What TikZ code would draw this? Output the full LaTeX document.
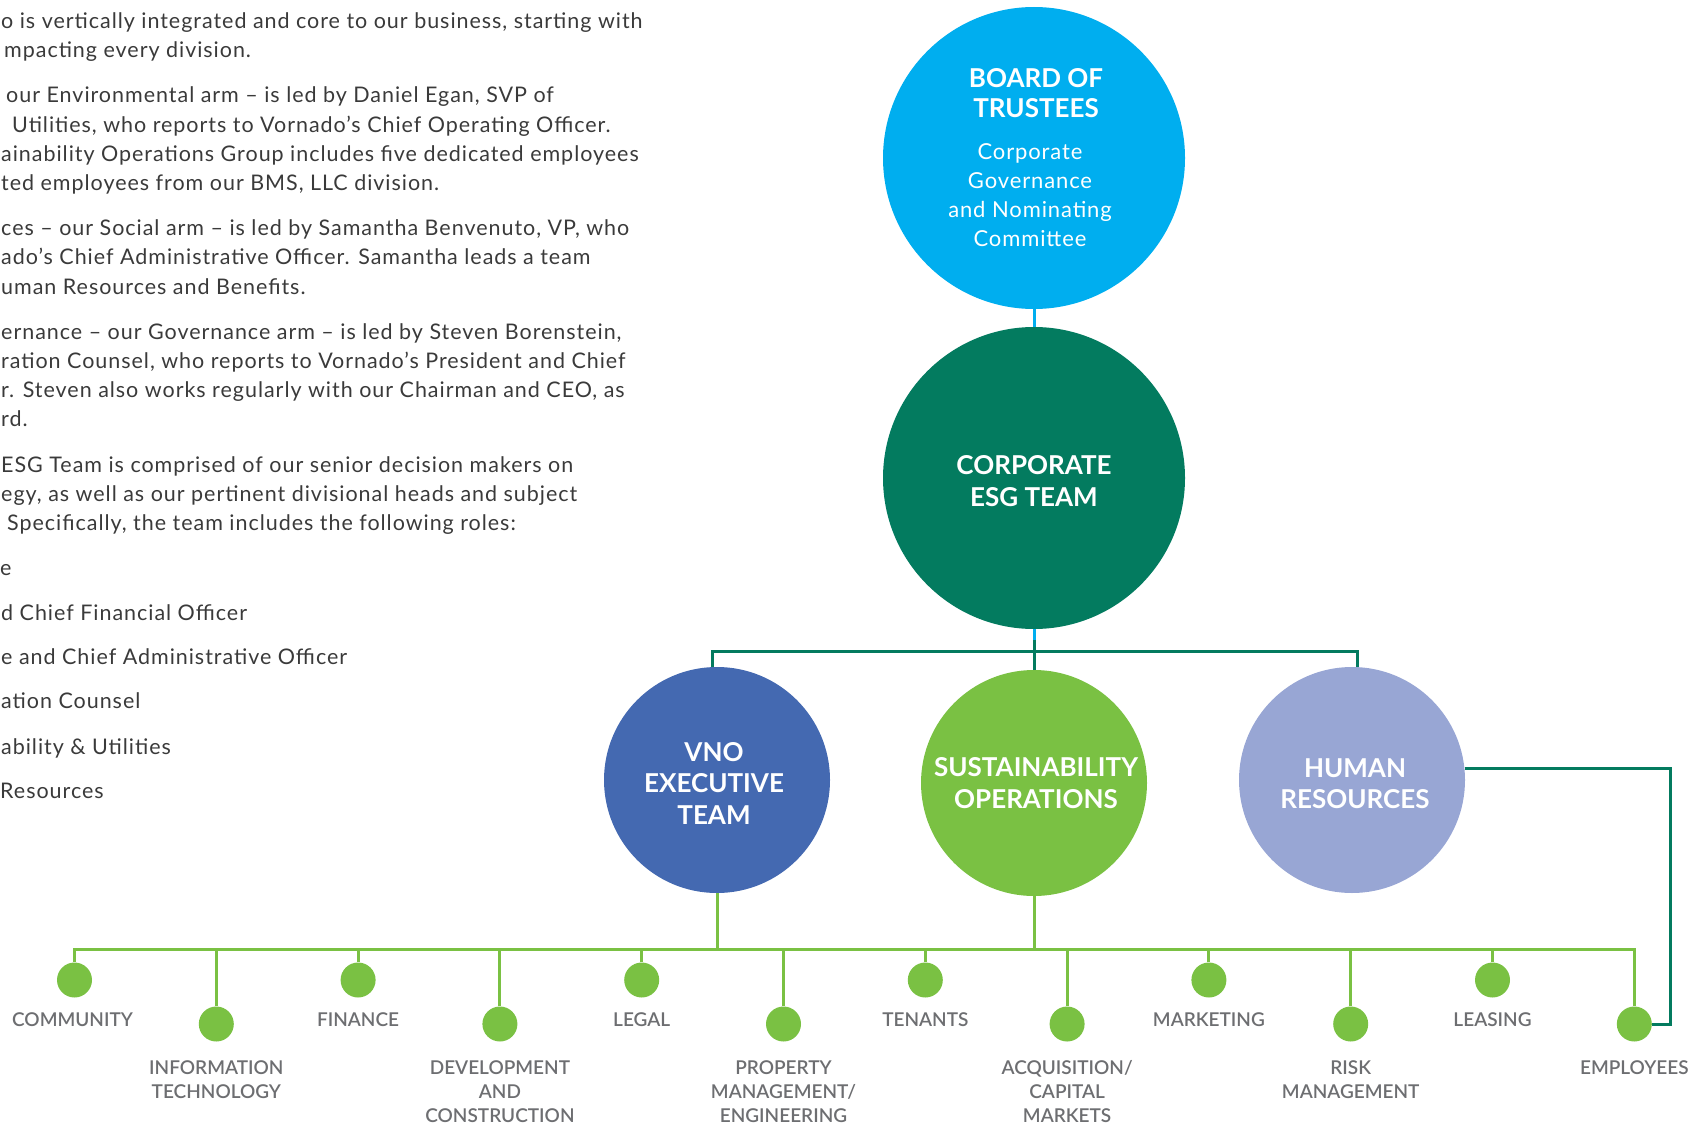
\documentclass[tikz,border=0pt]{standalone}
\usepackage{fontspec}
\setmainfont{Lato}
\newfontfamily\bodyfont{Lato}[LetterSpace=4.5]
\IfFontExistsTF{Lato Semibold}{\newfontfamily\labfont{Lato Semibold}}{\newfontfamily\labfont{Lato}[UprightFont=* Bold]}
\newfontfamily\subfont{Lato}[LetterSpace=4]
\definecolor{cyanB}{HTML}{00AEEF}
\definecolor{esgG}{HTML}{037B5F}
\definecolor{vnoB}{HTML}{4469B1}
\definecolor{susG}{HTML}{7AC143}
\definecolor{hrP}{HTML}{98A6D4}
\definecolor{labG}{HTML}{6D6E71}
\definecolor{bodyT}{HTML}{3A3A3A}
\begin{document}
\begin{tikzpicture}[x=1pt,y=-1pt,
  bigc/.style={circle, inner sep=0pt, minimum size=302pt},
  midc/.style={circle, inner sep=0pt, minimum size=226pt},
  dotc/.style={circle, fill=susG, inner sep=0pt, minimum size=35pt},
  ctitle/.style={text=white, font=\bfseries\fontsize{26}{32}\selectfont, align=center, inner sep=0pt},
  csub/.style={text=white, font=\subfont\fontsize{22}{29}\selectfont, align=center, inner sep=0pt},
  lab/.style={text=labG, font=\labfont\fontsize{19}{24}\selectfont, align=center, inner sep=0pt},
  body/.style={text=bodyT, font=\bodyfont\fontsize{21.5}{29}\selectfont, anchor=mid west, inner sep=0pt},
  lnDk/.style={draw=esgG, line width=3pt},
  lnG/.style={draw=susG, line width=3pt},
  lnB/.style={draw=cyanB, line width=3pt}]
\useasboundingbox (0,0) rectangle (1693,1126);
\clip (0,0) rectangle (1693,1126);

% body text
\node[body] (b1) at (1,26) {o is vertically integrated and core to our business, starting with};
\node[body] (b2) at (4,55.1) {mpacting every division.};
\node[body] (b3) at (6,100.4) {our Environmental arm – is led by Daniel Egan, SVP of};
\node[body] (b4) at (12,129.6) {Utilities, who reports to Vornado’s Chief Operating Officer.};
\node[body] (b5) at (1,158.7) {ainability Operations Group includes five dedicated employees};
\node[body] (b6) at (1,187.9) {ted employees from our BMS, LLC division.};
\node[body] (b7) at (1,233.2) {ces – our Social arm – is led by Samantha Benvenuto, VP, who};
\node[body] (b8) at (1,262.4) {ado’s Chief Administrative Officer. Samantha leads a team};
\node[body] (b9) at (1,291.5) {uman Resources and Benefits.};
\node[body] (b10) at (1,336.9) {ernance – our Governance arm – is led by Steven Borenstein,};
\node[body] (b11) at (1,366) {ration Counsel, who reports to Vornado’s President and Chief};
\node[body] (b12) at (1,395.2) {r. Steven also works regularly with our Chairman and CEO, as};
\node[body] (b13) at (1,424.3) {rd.};
\node[body] (b14) at (1,469.7) {ESG Team is comprised of our senior decision makers on};
\node[body] (b15) at (1,498.8) {egy, as well as our pertinent divisional heads and subject};
\node[body] (b16) at (7,528) {Specifically, the team includes the following roles:};
\node[body] (b17) at (0,573.4) {e};
\node[body] (b18) at (1,617.6) {d Chief Financial Officer};
\node[body] (b19) at (1,661.9) {e and Chief Administrative Officer};
\node[body] (b20) at (1,706.1) {ation Counsel};
\node[body] (b21) at (1,751.5) {ability \& Utilities};
\node[body] (b22) at (0,795.7) {Resources};

% main circles
\node[bigc, fill=cyanB] (board) at (1034,158) {};
\node[bigc, fill=esgG] (esg) at (1034,478) {};
\node[midc, fill=vnoB] (vno) at (717,780) {};
\node[midc, fill=susG] (sust) at (1034,783) {};
\node[midc, fill=hrP] (hr) at (1352,780) {};

\node[ctitle, font=\bfseries\fontsize{26}{30}\selectfont] (boardT) at (1036,93) {BOARD OF\\TRUSTEES};
\node[csub] (boardS) at (1030,195.5) {Corporate\\Governance\\and Nominating\\Committee};
\node[ctitle] (esgT) at (1034,481) {CORPORATE\\ESG TEAM};
\node[ctitle, font=\bfseries\fontsize{26}{31.5}\selectfont] (vnoT) at (714,783) {VNO\\EXECUTIVE\\TEAM};
\node[ctitle] (sustT) at (1036,783) {SUSTAINABILITY\\OPERATIONS};
\node[ctitle, font=\bfseries\fontsize{26}{31}\selectfont] (hrT) at (1355,783.5) {HUMAN\\RESOURCES};

% small circles
\node[dotc] (d1) at (74.5,980) {};
\node[dotc] (d2) at (216.3,1024) {};
\node[dotc] (d3) at (358.1,980) {};
\node[dotc] (d4) at (499.9,1024) {};
\node[dotc] (d5) at (641.7,980) {};
\node[dotc] (d6) at (783.5,1024) {};
\node[dotc] (d7) at (925.3,980) {};
\node[dotc] (d8) at (1067.1,1024) {};
\node[dotc] (d9) at (1208.9,980) {};
\node[dotc] (d10) at (1350.7,1024) {};
\node[dotc] (d11) at (1492.5,980) {};
\node[dotc] (d12) at (1634.3,1024) {};

% labels
\node[lab] (l1) at (72.5,1020) {COMMUNITY};
\node[lab] (l2) at (216.3,1080) {INFORMATION\\TECHNOLOGY};
\node[lab] (l3) at (358.1,1020) {FINANCE};
\node[lab] (l4) at (499.9,1092) {DEVELOPMENT\\AND\\CONSTRUCTION};
\node[lab] (l5) at (641.7,1020) {LEGAL};
\node[lab] (l6) at (783.5,1092) {PROPERTY\\MANAGEMENT/\\ENGINEERING};
\node[lab] (l7) at (925.3,1020) {TENANTS};
\node[lab] (l8) at (1067.1,1092) {ACQUISITION/\\CAPITAL\\MARKETS};
\node[lab] (l9) at (1208.9,1020) {MARKETING};
\node[lab] (l10) at (1350.7,1080) {RISK\\MANAGEMENT};
\node[lab] (l11) at (1492.5,1020) {LEASING};
\node[lab] (l12) at (1634.3,1068) {EMPLOYEES};

% connectors
\coordinate (bstub) at (1034,640);
\coordinate (jy) at (0,651);
\coordinate (busy) at (0,949);
\coordinate (hrturn) at (1670,1024);

\draw[lnB] (board.south) -- (esg.north);
\draw[lnB] (esg.south) -- (bstub);
\draw[lnDk] (bstub) -- (sust.north);
\draw[lnDk] ([xshift=-5pt]vno.north) |- ([xshift=5pt]hr.north |- jy) -- ([xshift=5pt]hr.north);
\draw[lnDk] (hr.6) -| (hrturn) -- (d12.east);

\draw[lnG] (vno.south) -- (vno.south |- busy);
\draw[lnG] (sust.south) -- (sust.south |- busy);
\draw[lnG] (d1.north) -- (d1.north |- busy) -- (d12.north |- busy) -- (d12.north);
\foreach \d in {d2,d3,d4,d5,d6,d7,d8,d9,d10,d11}
  \draw[lnG] (\d.north) -- (\d.north |- busy);
\end{tikzpicture}
\end{document}
